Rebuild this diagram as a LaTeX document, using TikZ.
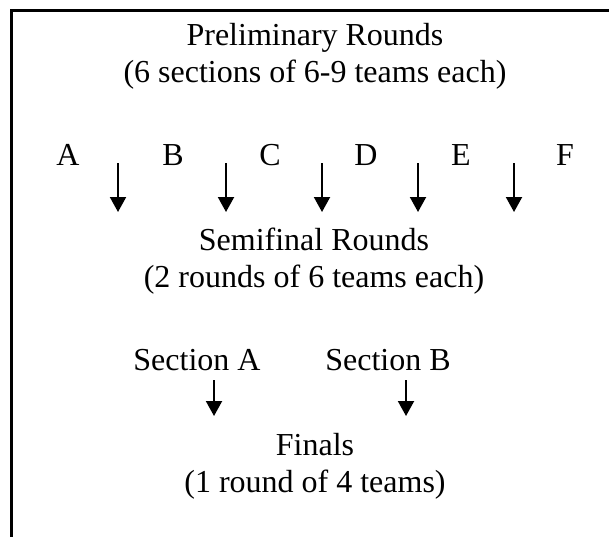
\documentclass[tikz,border=0pt]{standalone}
\usepackage{fontspec}
\setmainfont{Liberation Serif}
\usetikzlibrary{arrows.meta}

\begin{document}
\begin{tikzpicture}[x=0.5pt,y=-0.5pt,
        rowtext/.style={font=\fontsize{16}{18.5}\selectfont, inner sep=0pt, anchor=base, align=center},
        droparrow/.style={-{Triangle[width=8pt,length=7.5pt]}, line width=1pt}]
        \useasboundingbox (0,0) rectangle (609,537);

        % Draw the frame
        \draw[line width=1.5pt] (609,10.5) -- (11.3,10.5) -- (11.3,537);

        % Preliminary rounds (base is the last line)
        \node[rowtext] (prelim) at (315,82) {Preliminary Rounds\\(6 sections of 6-9 teams each)};

        % Sections A to F
        \foreach \s/\x in {A/68, B/173, C/270, D/366, E/461, F/565} {
            \node[rowtext] (sec\s) at (\x,165) {\s};
        }

        % Arrows down to the semifinals
        \foreach \j/\x in {1/118, 2/226, 3/322, 4/418, 5/514} {
            \coordinate (semiTop\j) at (\x,163);
            \coordinate (semiTip\j) at (\x,212);
            \draw[droparrow] (semiTop\j) -- (semiTip\j);
        }

        % Semifinal rounds
        \node[rowtext] (semi) at (314,287) {Semifinal Rounds\\(2 rounds of 6 teams each)};

        % Sections of the semifinals
        \node[rowtext] (semiA) at (197,370) {Section A};
        \node[rowtext] (semiB) at (388,370) {Section B};

        % Arrows down to the finals
        \foreach \j/\x in {1/214, 2/406} {
            \coordinate (finTop\j) at (\x,380);
            \coordinate (finTip\j) at (\x,416);
            \draw[droparrow] (finTop\j) -- (finTip\j);
        }

        % Finals
        \node[rowtext] (finals) at (315,492) {Finals\\(1 round of 4 teams)};
    \end{tikzpicture}
\end{document}
